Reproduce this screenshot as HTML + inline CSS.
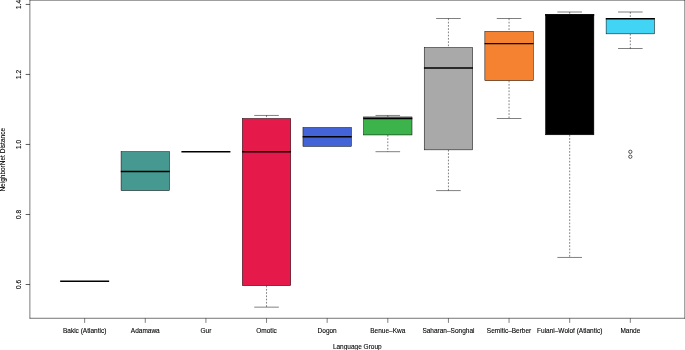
<!DOCTYPE html>
<html lang="en">
<head>
<meta charset="utf-8">
<title>NeighborNet Distance by Language Group</title>
<style>
html,body{margin:0;padding:0;background:#fff;}
body{width:685px;height:350px;overflow:hidden;}
svg{display:block;}
svg text{stroke:#000;stroke-width:0.1px;}
</style>
</head>
<body>
<svg width="685" height="350" viewBox="0 0 685 350" font-family="Liberation Sans, Arial, Helvetica, sans-serif" font-size="6.5" fill="#000">
<rect x="0" y="0" width="685" height="350" fill="#fff"/>
<line x1="60.15" y1="281.15" x2="109.15" y2="281.15" stroke="#000" stroke-width="1.45"/>
<rect x="121.08" y="151.7" width="48.40" height="38.90" fill="#469990" stroke="#000" stroke-width="0.5"/>
<line x1="120.78" y1="171.45" x2="169.78" y2="171.45" stroke="#000" stroke-width="1.45"/>
<line x1="181.41" y1="151.75" x2="230.41" y2="151.75" stroke="#000" stroke-width="1.45"/>
<line x1="266.54" y1="115.45" x2="266.54" y2="118.5" stroke="#000" stroke-width="0.5" stroke-dasharray="1.7 1.55"/>
<line x1="254.24" y1="115.45" x2="278.84" y2="115.45" stroke="#000" stroke-width="0.5"/>
<line x1="266.54" y1="285.65" x2="266.54" y2="307.15" stroke="#000" stroke-width="0.5" stroke-dasharray="1.7 1.55"/>
<line x1="254.24" y1="307.15" x2="278.84" y2="307.15" stroke="#000" stroke-width="0.5"/>
<rect x="242.34" y="118.5" width="48.40" height="167.15" fill="#E6194B" stroke="#000" stroke-width="0.5"/>
<line x1="242.04" y1="151.7" x2="291.04" y2="151.7" stroke="#000" stroke-width="1.45"/>
<rect x="302.97" y="127.55" width="48.40" height="18.80" fill="#4363D8" stroke="#000" stroke-width="0.5"/>
<line x1="302.67" y1="136.65" x2="351.67" y2="136.65" stroke="#000" stroke-width="1.45"/>
<line x1="387.80" y1="115.45" x2="387.80" y2="116.95" stroke="#000" stroke-width="0.5" stroke-dasharray="1.7 1.55"/>
<line x1="375.50" y1="115.45" x2="400.10" y2="115.45" stroke="#000" stroke-width="0.5"/>
<line x1="387.80" y1="134.95" x2="387.80" y2="151.7" stroke="#000" stroke-width="0.5" stroke-dasharray="1.7 1.55"/>
<line x1="375.50" y1="151.7" x2="400.10" y2="151.7" stroke="#000" stroke-width="0.5"/>
<rect x="363.60" y="116.95" width="48.40" height="18.00" fill="#3CB44B" stroke="#000" stroke-width="0.5"/>
<line x1="363.30" y1="118.5" x2="412.30" y2="118.5" stroke="#000" stroke-width="1.45"/>
<line x1="448.43" y1="18.5" x2="448.43" y2="47.5" stroke="#000" stroke-width="0.5" stroke-dasharray="1.7 1.55"/>
<line x1="436.13" y1="18.5" x2="460.73" y2="18.5" stroke="#000" stroke-width="0.5"/>
<line x1="448.43" y1="149.85" x2="448.43" y2="190.6" stroke="#000" stroke-width="0.5" stroke-dasharray="1.7 1.55"/>
<line x1="436.13" y1="190.6" x2="460.73" y2="190.6" stroke="#000" stroke-width="0.5"/>
<rect x="424.23" y="47.5" width="48.40" height="102.35" fill="#A9A9A9" stroke="#000" stroke-width="0.5"/>
<line x1="423.93" y1="68.0" x2="472.93" y2="68.0" stroke="#000" stroke-width="1.45"/>
<line x1="509.06" y1="18.5" x2="509.06" y2="31.5" stroke="#000" stroke-width="0.5" stroke-dasharray="1.7 1.55"/>
<line x1="496.76" y1="18.5" x2="521.36" y2="18.5" stroke="#000" stroke-width="0.5"/>
<line x1="509.06" y1="80.7" x2="509.06" y2="118.5" stroke="#000" stroke-width="0.5" stroke-dasharray="1.7 1.55"/>
<line x1="496.76" y1="118.5" x2="521.36" y2="118.5" stroke="#000" stroke-width="0.5"/>
<rect x="484.86" y="31.5" width="48.40" height="49.20" fill="#F58231" stroke="#000" stroke-width="0.5"/>
<line x1="484.56" y1="43.6" x2="533.56" y2="43.6" stroke="#000" stroke-width="1.45"/>
<line x1="569.69" y1="12.0" x2="569.69" y2="14.45" stroke="#000" stroke-width="0.5" stroke-dasharray="1.7 1.55"/>
<line x1="557.39" y1="12.0" x2="581.99" y2="12.0" stroke="#000" stroke-width="0.5"/>
<line x1="569.69" y1="134.8" x2="569.69" y2="257.45" stroke="#000" stroke-width="0.5" stroke-dasharray="1.7 1.55"/>
<line x1="557.39" y1="257.45" x2="581.99" y2="257.45" stroke="#000" stroke-width="0.5"/>
<rect x="545.49" y="14.45" width="48.40" height="120.35" fill="#000000" stroke="#000" stroke-width="0.5"/>
<line x1="545.19" y1="14.9" x2="594.19" y2="14.9" stroke="#000" stroke-width="1.45"/>
<line x1="630.32" y1="12.0" x2="630.32" y2="18.5" stroke="#000" stroke-width="0.5" stroke-dasharray="1.7 1.55"/>
<line x1="618.02" y1="12.0" x2="642.62" y2="12.0" stroke="#000" stroke-width="0.5"/>
<line x1="630.32" y1="33.85" x2="630.32" y2="48.5" stroke="#000" stroke-width="0.5" stroke-dasharray="1.7 1.55"/>
<line x1="618.02" y1="48.5" x2="642.62" y2="48.5" stroke="#000" stroke-width="0.5"/>
<rect x="606.12" y="18.5" width="48.40" height="15.35" fill="#42D4F4" stroke="#000" stroke-width="0.5"/>
<line x1="605.82" y1="18.65" x2="654.82" y2="18.65" stroke="#000" stroke-width="1.45"/>
<circle cx="630.32" cy="151.8" r="1.65" fill="none" stroke="#000" stroke-width="0.65"/>
<circle cx="630.32" cy="156.7" r="1.65" fill="none" stroke="#000" stroke-width="0.65"/>
<line x1="29.88" y1="0" x2="29.88" y2="318.53" stroke="#000" stroke-width="0.52"/>
<line x1="29.619999999999997" y1="318.28" x2="685" y2="318.28" stroke="#000" stroke-width="0.55"/>
<line x1="29.619999999999997" y1="0.2" x2="685" y2="0.2" stroke="#000" stroke-width="0.55"/>
<line x1="684.85" y1="0" x2="684.85" y2="318.53" stroke="#000" stroke-width="0.55"/>
<line x1="84.65" y1="318.28" x2="84.65" y2="322.88" stroke="#000" stroke-width="0.5"/>
<text x="84.65" y="333.0" text-anchor="middle">Bakic (Atlantic)</text>
<line x1="145.28" y1="318.28" x2="145.28" y2="322.88" stroke="#000" stroke-width="0.5"/>
<text x="145.28" y="333.0" text-anchor="middle">Adamawa</text>
<line x1="205.91" y1="318.28" x2="205.91" y2="322.88" stroke="#000" stroke-width="0.5"/>
<text x="205.91" y="333.0" text-anchor="middle">Gur</text>
<line x1="266.54" y1="318.28" x2="266.54" y2="322.88" stroke="#000" stroke-width="0.5"/>
<text x="266.54" y="333.0" text-anchor="middle">Omotic</text>
<line x1="327.17" y1="318.28" x2="327.17" y2="322.88" stroke="#000" stroke-width="0.5"/>
<text x="327.17" y="333.0" text-anchor="middle">Dogon</text>
<line x1="387.80" y1="318.28" x2="387.80" y2="322.88" stroke="#000" stroke-width="0.5"/>
<text x="387.80" y="333.0" text-anchor="middle">Benue–Kwa</text>
<line x1="448.43" y1="318.28" x2="448.43" y2="322.88" stroke="#000" stroke-width="0.5"/>
<text x="448.43" y="333.0" text-anchor="middle">Saharan–Songhai</text>
<line x1="509.06" y1="318.28" x2="509.06" y2="322.88" stroke="#000" stroke-width="0.5"/>
<text x="509.06" y="333.0" text-anchor="middle">Semitic–Berber</text>
<line x1="569.69" y1="318.28" x2="569.69" y2="322.88" stroke="#000" stroke-width="0.5"/>
<text x="569.69" y="333.0" text-anchor="middle">Fulani–Wolof (Atlantic)</text>
<line x1="630.32" y1="318.28" x2="630.32" y2="322.88" stroke="#000" stroke-width="0.5"/>
<text x="630.32" y="333.0" text-anchor="middle">Mande</text>
<text x="357.3" y="349.1" text-anchor="middle">Language Group</text>
<line x1="25.68" y1="284.49" x2="29.88" y2="284.49" stroke="#000" stroke-width="0.65"/>
<text transform="translate(21.0,284.49) rotate(-90)" text-anchor="middle">0.6</text>
<line x1="25.68" y1="214.47" x2="29.88" y2="214.47" stroke="#000" stroke-width="0.65"/>
<text transform="translate(21.0,214.47) rotate(-90)" text-anchor="middle">0.8</text>
<line x1="25.68" y1="144.45" x2="29.88" y2="144.45" stroke="#000" stroke-width="0.65"/>
<text transform="translate(21.0,144.45) rotate(-90)" text-anchor="middle">1.0</text>
<line x1="25.68" y1="74.43" x2="29.88" y2="74.43" stroke="#000" stroke-width="0.65"/>
<text transform="translate(21.0,74.43) rotate(-90)" text-anchor="middle">1.2</text>
<line x1="25.68" y1="4.41" x2="29.88" y2="4.41" stroke="#000" stroke-width="0.65"/>
<text transform="translate(21.0,4.41) rotate(-90)" text-anchor="middle">1.4</text>
<text transform="translate(5.4,159.8) rotate(-90)" text-anchor="middle">NeighborNet Distance</text>
</svg>
</body>
</html>
